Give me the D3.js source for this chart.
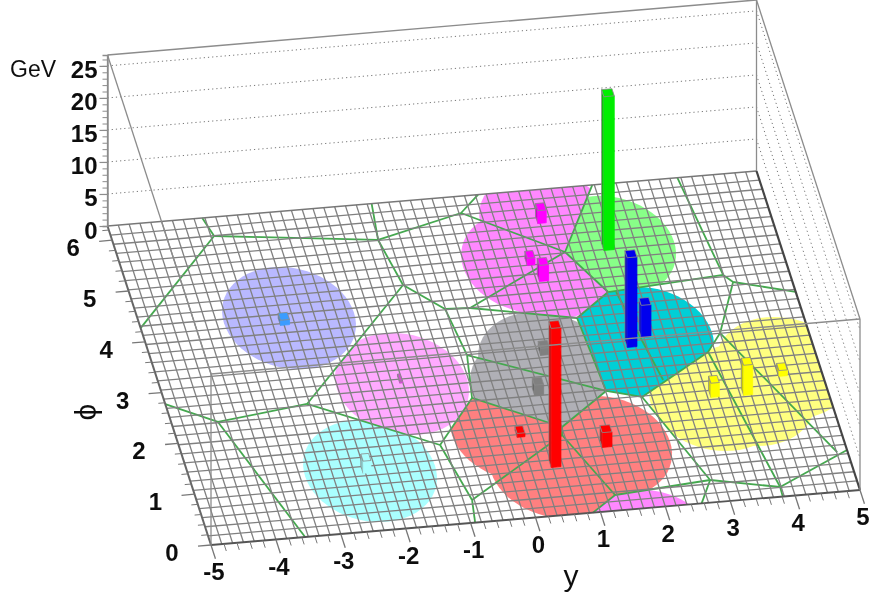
<!DOCTYPE html>
<html><head><meta charset="utf-8">
<script src="https://cdn.jsdelivr.net/npm/d3@7"></script>
<style>
html,body{margin:0;padding:0;background:#fff}
svg{display:block}
text{font-family:"Liberation Sans",Arial,sans-serif;fill:#111}
.tick-label{font-weight:bold;font-size:24px}
</style></head><body><div id="chart"></div>
<script>
// ---------- axis values ----------
const yTicks = [-5,-4,-3,-2,-1,0,1,2,3,4,5];
const phiTicks = [0,1,2,3,4,5,6];
const zTicks = [0,5,10,15,20,25];
const phiMax = 6.28, zMax = 26.7;
const meshBinsY = 60, meshBinsPhi = 35;

// ---------- Voronoi vertices [y, phi] ----------
const v1=[-3.45,5.915], v1top=[-3.54,6.28], v1left=[-5,4.27];
const b=[-1.01,5.573], btop=[-.93,6.28];
const c=[.365,5.955], ctop=[.71,6.28];
const d=[-.855,4.67], e=[-.342,4.142], f=[.038,4.12];
const g=[1.735,5.039], gtop=[2.47,6.28];
const h=[2.186,4.202], i=[1.594,3.755];
const j=[3.994,4.342], jtop=[3.78,6.28];
const k=[4.109,4.191], kr=[5,3.9];
const l=[3.666,3.235], m=[3.394,2.891], n=[2.185,2.136], o=[1.674,2.31];
const p=[-.236,3.224], q=[-.37,2.393], r=[.839,1.691], s=[.8,1.538];
const t=[-1.078,1.544], u=[-.866,.438], ub=[-.93,0];
const w=[1.303,.302], wb=[.886,0], x=[2.801,.435], xb=[2.56,0];
const z=[3.817,.187], zb=[3.81,0], zr=[5,.787];
const aa=[-2.874,2.546], bb=[-4.297,2.346], bbl=[-5,2.773], cc=[-3.55,0];
const tealA=[2.306,4.189], tealB=[2.583,2.427], yelA=[4.842,.765];
const cornerTL=[-5,phiMax], cornerTR=[5,phiMax], cornerBL=[-5,0], cornerBR=[5,0];

const voronoiEdges = [
 [v1,v1top],[v1,v1left],[v1,b],[b,btop],[b,c],[c,ctop],[c,g],[b,d],[d,e],[e,f],
 [f,g],[f,i],[g,gtop],[g,h],[h,i],[h,j],[j,jtop],[j,k],[k,kr],[k,l],[l,m],[m,n],
 [n,o],[o,i],[e,p],[p,o],[p,q],[q,r],[r,o],[r,s],[s,u],[s,w],[w,wb],[w,x],[x,xb],
 [x,n],[x,z],[z,zb],[z,zr],[m,z],[l,yelA],[q,t],[t,u],[u,ub],[t,aa],[d,aa],[aa,bb],
 [bb,bbl],[bb,cc],[tealA,tealB]
];

// ---------- jet regions: colour, cell outline, circle centres ----------
const regionColors = ["#b9b9ff","#ffaaff","#aaffff","#ff88ff","#ff88ff","#88ff88","#00cfd6","#ffff80","#ff8080","#b0b0b6"];
const regionCells = [
 [v1,b,d,aa,bb,bbl,v1left,cornerTL,v1top],
 [d,e,p,q,t,aa],
 [aa,t,u,ub,cc,bb],
 [ctop,gtop,g,h,i,f,e,d,b,c],
 [wb,w,x,xb],
 [gtop,g,h,j,jtop],
 [i,h,j,k,l,m,n,o],
 [n,m,l,k,kr,zr,z,x],
 [q,r,o,n,x,w,wb,ub,u,t],
 [f,i,o,r,q,p,e]
];
const regionCircles = [
 [[-2.726,4.222]],
 [[-1.352,2.775]],
 [[-2.255,1.16]],
 [[1.6,5.65],[1.132,4.907],[1.358,4.765]],
 [[1.6,-.63]],
 [[2.42,5.064]],
 [[2.278,3.11],[2.547,3.258]],
 [[3.28,1.958],[3.785,2.002],[4.441,2.462]],
 [[.149,1.706],[.554,.934],[1.387,1.238]],
 [[.895,2.945],[.659,2.498]]
];
const circleRadius = 1;

// ---------- towers ----------
const barY   = [1.53,2.405,1.162,1.279,2.537,2.278,.934,.65,4.402,3.28,3.785,-2.82,-1.362,1.417,.175,.554,-2.31];
const barPhi = [5.63,5.006,4.845,4.517,3.279,3.11,3.098,2.341,2.309,2.018,2.002,4.095,2.795,1.235,1.566,.934,1.126];
const barGeV = [2,24,1.1,2.5,5,14,1.1,1.6,.9,2.2,4.7,.8,.3,2.3,.6,21.7,1.9];
const barColor = ["#ff00ff","#00ee00","#ff00ff","#ff00ff","#0000ee","#0000ee","#808080","#808080","#ffff00","#ffff00","#ffff00","#3b9cff","#d050d0","#ff0000","#ff0000","#ff0000","#aaffff"];
const barWidth = [.13,.16,.12,.14,.15,.15,.14,.14,.13,.13,.14,.14,.04,.15,.12,.15,.12];

// ---------- scales and projection ----------
const W=870,H=594;
const sy=d3.scaleLinear().domain([-5,5]).range([0,1]);
const sphi=d3.scaleLinear().domain([0,phiMax]).range([0,1]);
const sz=d3.scaleLinear().domain([0,zMax]).range([0,171]);
function proj(Y,P,Z=0){
  const a=sy(Y),v=sphi(P);
  return [211+649*a-103.5*v, 545-55*a-319*v-sz(Z)];
}
const pathOf=(pts,close)=>"M"+pts.map(q=>proj(q[0],q[1],q[2]||0).map(n=>n.toFixed(2)).join(",")).join("L")+(close?"Z":"");
const root=d3.select("#chart").append("svg").attr("width",W).attr("height",H);
const defs=root.append("defs");
defs.append("filter").attr("id","soft").attr("x",0).attr("y",0).attr("width","100%").attr("height","100%")
  .attr("filterUnits","userSpaceOnUse").append("feGaussianBlur").attr("stdDeviation",.4);
const svg=root.append("g").attr("filter","url(#soft)");
svg.append("rect").attr("width",W).attr("height",H).attr("fill","#fff");
const floor=[cornerBL,cornerBR,cornerTR,cornerTL];

// back walls: dotted grid
const grid=svg.append("g").attr("fill","none").attr("stroke","#777").attr("stroke-width",1).attr("stroke-dasharray","1.2 3");
zTicks.slice(1).forEach(zv=>{
  grid.append("path").attr("d",pathOf([[-5,phiMax,zv],[5,phiMax,zv]]));
  grid.append("path").attr("d",pathOf([[5,phiMax,zv],[5,0,zv]]));
});

// jet areas
regionCells.forEach((cell,idx)=>{
  const id="cell"+idx;
  defs.append("clipPath").attr("id",id).append("path").attr("d",pathOf(cell,true));
  const gr=svg.append("g").attr("clip-path",`url(#${id})`);
  regionCircles[idx].forEach(ct=>{
    const pts=d3.range(0,360,6).map(a=>[ct[0]+circleRadius*Math.cos(a*Math.PI/180),ct[1]+circleRadius*Math.sin(a*Math.PI/180)]);
    gr.append("path").attr("d",pathOf(pts,true)).attr("fill",regionColors[idx]);
  });
});

// Voronoi edges
svg.append("g").attr("fill","none").attr("stroke","#45a84f").attr("stroke-width",1.8)
  .selectAll("path").data(voronoiEdges).join("path").attr("d",e=>pathOf(e));

// lego mesh
const mesh=svg.append("g").attr("fill","none").attr("stroke","#808080").attr("stroke-width",1.3);
const meshY=d3.scaleLinear().domain([0,meshBinsY]).range([-5,5]);
const meshPhi=d3.scaleLinear().domain([0,meshBinsPhi]).range([0,phiMax]);
d3.range(1,meshBinsY).forEach(nb=>mesh.append("path").attr("d",pathOf([[meshY(nb),0],[meshY(nb),phiMax]])));
d3.range(1,meshBinsPhi).forEach(nb=>mesh.append("path").attr("d",pathOf([[-5,meshPhi(nb)],[5,meshPhi(nb)]])));

// floor border
const border=svg.append("g").attr("fill","none");
border.append("path").attr("d",pathOf([cornerTL,cornerTR])).attr("stroke","#777").attr("stroke-width",1.6);
border.append("path").attr("d",pathOf([cornerBL,cornerBR])).attr("stroke","#555").attr("stroke-width",1.8);
border.append("path").attr("d",pathOf([cornerBL,cornerTL])).attr("stroke","#666").attr("stroke-width",2);
border.append("path").attr("d",pathOf([cornerBR,cornerTR])).attr("stroke","#444").attr("stroke-width",2.2);

// towers, back to front
const order=d3.range(barY.length).sort((A,B)=>barPhi[B]-barPhi[A]);
const depth=.14;
const shade=(col,kk)=>d3.color(col).darker(kk).formatHex();
const bars=svg.append("g").attr("stroke","#8a8a8a").attr("stroke-width",.8).attr("stroke-linejoin","round");
order.forEach(ix=>{
  const Y0=barY[ix]-barWidth[ix]/2,Y1=barY[ix]+barWidth[ix]/2,P0=barPhi[ix],P1=P0+depth,Z=barGeV[ix],col=barColor[ix];
  bars.append("path").attr("d",pathOf([[Y0,P0,0],[Y0,P1,0],[Y0,P1,Z],[Y0,P0,Z]],true)).attr("fill",shade(col,.6));
  bars.append("path").attr("d",pathOf([[Y0,P0,0],[Y1,P0,0],[Y1,P0,Z],[Y0,P0,Z]],true)).attr("fill",col).attr("stroke",col);
  bars.append("path").attr("d",pathOf([[Y0,P0,Z],[Y1,P0,Z],[Y1,P1,Z],[Y0,P1,Z]],true)).attr("fill",col);
});

// box frame
const frame=svg.append("g").attr("fill","none").attr("stroke","#8c8c8c").attr("stroke-width",1.3);
[
 [[-5,phiMax,0],[-5,phiMax,zMax]],[[5,phiMax,0],[5,phiMax,zMax]],
 [[-5,phiMax,zMax],[5,phiMax,zMax]],[[-5,phiMax,zMax],[-5,0,zMax]],
 [[5,phiMax,zMax],[5,0,zMax]],[[-5,0,zMax],[5,0,zMax]],
 [[-5,0,0],[-5,0,zMax]],[[5,0,0],[5,0,zMax]]
].forEach(seg=>frame.append("path").attr("d",pathOf(seg)));

// z axis (d3 axis along the back-left edge)
const zPix=d3.scaleLinear().domain([0,zMax]).range([proj(-5,phiMax,0)[1],proj(-5,phiMax,zMax)[1]]);
const zMinor=d3.axisLeft(zPix).tickValues(d3.range(0,27,1)).tickSize(5).tickFormat("");
svg.append("g").attr("transform",`translate(${proj(-5,phiMax,0)[0]},0)`).call(zMinor)
  .call(gg=>{gg.selectAll("line").attr("stroke","#8c8c8c").attr("stroke-width",1);gg.select(".domain").attr("stroke","#8c8c8c").attr("stroke-width",1.4);});
const zMajor=d3.axisLeft(zPix).tickValues(zTicks).tickSize(8).tickPadding(2);
svg.append("g").attr("transform",`translate(${proj(-5,phiMax,0)[0]},0)`).call(zMajor)
  .call(gg=>{gg.select(".domain").remove();gg.selectAll("line").attr("stroke","#8c8c8c").attr("stroke-width",1.2);
    gg.selectAll("text").attr("class","tick-label").attr("dy","0.5em").style("fill","#111");})
  .attr("font-family",null).attr("font-size",null);

// y and phi axes: ticks follow the floor axes
const ticksG=svg.append("g").attr("stroke","#777").attr("fill","none");
d3.range(-5,5.01,.2).forEach(yv=>{
  const major=Math.abs(yv-Math.round(yv))<.01;
  ticksG.append("path").attr("stroke-width",major?1.3:1).attr("d",pathOf([[yv,0],[yv,major?-.27:-.14]]));
});
d3.range(0,6.21,.2).forEach(pv=>{
  const major=Math.abs(pv-Math.round(pv))<.01;
  ticksG.append("path").attr("stroke-width",major?1.3:1).attr("d",pathOf([[-5,pv],[major?-5.2:-5.1,pv]]));
});
svg.selectAll(".ylab").data(yTicks).join("text").attr("class","tick-label")
  .attr("x",v=>proj(v,0)[0]+3).attr("y",v=>proj(v,0)[1]+35).attr("text-anchor","middle").text(v=>v);
svg.selectAll(".plab").data(phiTicks).join("text").attr("class","tick-label")
  .attr("x",v=>proj(-5,v)[0]-39).attr("y",v=>proj(-5,v)[1]+16).attr("text-anchor","middle").text(v=>v);

// titles
svg.append("text").attr("x",10).attr("y",77).attr("font-size",23).text("GeV");
svg.append("text").attr("x",571).attr("y",586).attr("text-anchor","middle").attr("font-size",30).text("y");
svg.append("text").attr("transform","translate(96,412) rotate(-90)").attr("text-anchor","middle").attr("font-size",30).text("ϕ");
</script></body></html>
